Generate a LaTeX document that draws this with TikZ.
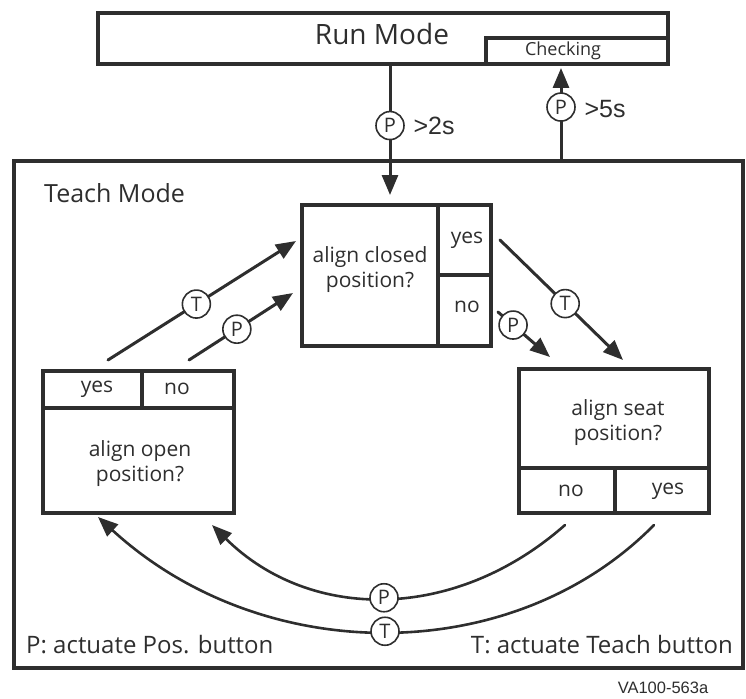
\documentclass[tikz,border=0pt]{standalone}
\usepackage{fontspec}
\setmainfont{Open Sans}
\newfontfamily\arialfont{Liberation Sans}
\usetikzlibrary{arrows.meta}
\definecolor{ink}{HTML}{2E2E2E}

\begin{document}
\begin{tikzpicture}[x=1pt,y=-1pt,line cap=round,line join=miter,>={Triangle[length=20pt,width=16pt]},
  every node/.style={inner sep=1pt,text=ink,font=\fontsize{21}{25}\selectfont},
  box/.style={draw=ink,line width=3.2pt,inner sep=0pt},
  divline/.style={draw=ink,line width=3.2pt,line cap=butt},
  btn/.style={draw=ink,circle,fill=white,line width=1.6pt,minimum size=28pt,inner sep=0pt,font=\fontsize{20}{20}\selectfont},
  arr/.style={->,draw=ink,line width=3pt},
  bendarr/.style={->,draw=ink,line width=2.6pt},
  timing/.style={font=\arialfont\fontsize{25}{25}\selectfont}]
  \useasboundingbox (0,0) rectangle (746,698);
  % run mode
  \node[box,minimum width=570pt,minimum height=51pt] (run) at (383,38.5) {};
  \node[box,anchor=south east,minimum width=182pt,minimum height=26pt] (chk) at (run.south east) {};
  \node[font=\fontsize{28}{30}\selectfont] (runlbl) at (382,34) {Run Mode};
  \node[font=\fontsize{18}{20}\selectfont] (chklbl) at (563,51) {Checking};
  % teach mode
  \node[box,line width=3.6pt,minimum width=729pt,minimum height=507pt] (teach) at (378.5,414.5) {};
  \node[anchor=west,font=\fontsize{25}{28}\selectfont] (teachlbl) at (43,193) {Teach Mode};
  % closed
  \node[box,minimum width=189pt,minimum height=141pt] (closed) at (396.5,275.5) {};
  \draw[divline] (438,205) -- (438,346);
  \draw[divline] (438,275) -- (491,275);
  \node[align=center] (closedlbl) at (370,270) {align closed\\position?};
  \node (closedyes) at (467,240) {yes};
  \node (closedno) at (467,307) {no};
  % open
  \node[box,minimum width=191pt,minimum height=142pt] (open) at (138.5,442) {};
  \draw[divline] (43,408) -- (234,408);
  \draw[divline] (142,371) -- (142,408);
  \node (openyes) at (97,389) {yes};
  \node (openno) at (177,389) {no};
  \node[align=center] (openlbl) at (140,464) {align open\\position?};
  % seat
  \node[box,minimum width=190pt,minimum height=144pt] (seat) at (614,441) {};
  \draw[divline] (519,468) -- (709,468);
  \draw[divline] (615,468) -- (615,513);
  \node[align=center,text depth=0pt] (seatlbl) at (618,420) {align seat\\position?};
  \node (seatno) at (571,491) {no};
  \node (seatyes) at (668,491) {yes};
  % run <-> teach
  \coordinate (dn1) at (390,64);
  \coordinate (dn2) at (390,195);
  \draw[arr] (dn1) -- node[btn,pos=0.47] (p0) {P} (dn2);
  \node[timing] (t2s) at (434,126) {>2s};
  \coordinate (up1) at (561,161);
  \coordinate (up2) at (561,68);
  \draw[arr] (up1) -- node[btn,pos=0.58] (p1) {P} (up2);
  \node[timing] (t5s) at (605,109) {>5s};
  % open -> closed
  \coordinate (oy1) at (108,360);
  \coordinate (oy2) at (296,241);
  \draw[arr] (oy1) -- node[btn,pos=0.47] (t1) {T} (oy2);
  \coordinate (on1) at (189,360);
  \coordinate (on2) at (293,293);
  \draw[arr] (on1) -- node[btn,pos=0.46] (p2) {P} (on2);
  % closed -> seat
  \coordinate (cy1) at (500,240);
  \coordinate (cy2) at (623,360);
  \draw[arr] (cy1) -- node[btn,pos=0.53] (t2) {T} (cy2);
  \coordinate (cn1) at (498,312);
  \coordinate (cn2) at (550,357);
  \draw[arr] (cn1) -- node[btn,pos=0.29] (p3) {P} (cn2);
  % seat -> open
  \coordinate (sn1) at (565,525);
  \coordinate (sn2) at (212,525);
  \draw[bendarr] (sn1) .. controls (455,622) and (310,622) .. node[btn,pos=0.5] (p4) {P} (sn2);
  \coordinate (sy1) at (654,525);
  \coordinate (sy2) at (98,517);
  \draw[bendarr] (sy1) .. controls (513,668) and (263,668) .. node[btn,pos=0.5] (t3) {T} (sy2);
  % legend
  \node[anchor=west,font=\fontsize{24}{28}\selectfont] (plegend) at (25,645) {P: actuate Pos. button};
  \node[anchor=east,font=\fontsize{24}{28}\selectfont] (tlegend) at (734,645) {T: actuate Teach button};
  \node[font=\arialfont\fontsize{16.5}{18}\selectfont] (code) at (663,688) {VA100-563a};
\end{tikzpicture}
\end{document}
